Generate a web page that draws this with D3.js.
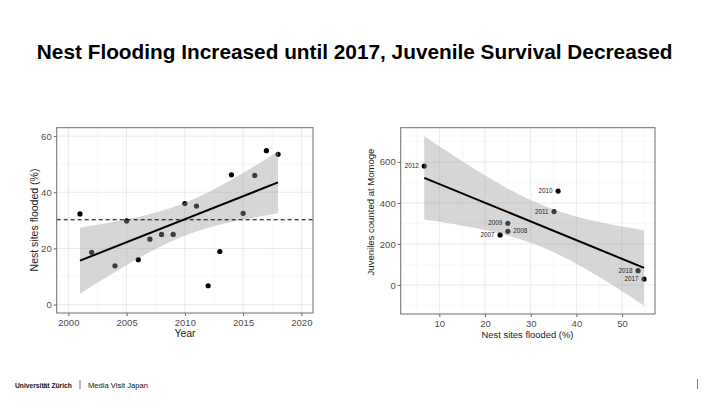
<!DOCTYPE html>
<html>
<head>
<meta charset="utf-8">
<script src="https://cdn.jsdelivr.net/npm/d3@7"></script>
<style>
  html, body { margin: 0; padding: 0; background: #fff; }
  svg { display: block; font-family: "Liberation Sans", Arial, sans-serif; }
</style>
</head>
<body>
<svg id="chart" width="720" height="405"></svg>
<script>
// ---------- data ----------
const years = [2001, 2002, 2004, 2005, 2006, 2007, 2008, 2009, 2010, 2011, 2012, 2013, 2014, 2015, 2016, 2017, 2018];
const floodedPct = [32.3, 18.6, 13.8, 29.8, 16.0, 23.3, 25.0, 25.0, 36.0, 35.1, 6.7, 18.9, 46.2, 32.5, 46.0, 54.8, 53.5];

const juvYears = ["2012", "2010", "2011", "2009", "2008", "2007", "2018", "2017"];
const juvFlooded = [6.7, 36.0, 35.1, 25.0, 25.0, 23.3, 53.5, 54.8];
const juvCount = [580, 458, 358, 301, 262, 244, 70, 29];

const leftXTicks = [2000, 2005, 2010, 2015, 2020];
const leftYTicks = [0, 20, 40, 60];
const rightXTicks = [10, 20, 30, 40, 50];
const rightYTicks = [0, 200, 400, 600];

const titleText = "Nest Flooding Increased until 2017, Juvenile Survival Decreased";

// ---------- helpers ----------
function linfit(xs, ys, tcrit) {
  const n = xs.length;
  const mx = d3.mean(xs), my = d3.mean(ys);
  let sxx = 0, sxy = 0;
  xs.forEach((x, i) => { sxx += (x - mx) ** 2; sxy += (x - mx) * (ys[i] - my); });
  const b = sxy / sxx, a = my - b * mx;
  let ssr = 0;
  xs.forEach((x, i) => { ssr += (ys[i] - a - b * x) ** 2; });
  const s = Math.sqrt(ssr / (n - 2));
  const [x0, x1] = d3.extent(xs);
  const grid = d3.range(0, 81).map(k => x0 + (x1 - x0) * k / 80);
  const band = grid.map(x => {
    const fit = a + b * x;
    const se = s * Math.sqrt(1 / n + (x - mx) ** 2 / sxx);
    return { x, fit, lo: fit - tcrit * se, hi: fit + tcrit * se };
  });
  return { a, b, band, x0, x1 };
}

function fitText(sel, base, target) {
  sel.attr("font-size", base);
  const w = sel.node().getComputedTextLength();
  sel.attr("font-size", base * target / w);
  return sel;
}

const svg = d3.select("#chart");

// title
fitText(svg.append("text")
  .attr("x", 354.7).attr("y", 59)
  .attr("text-anchor", "middle")
  .attr("font-weight", "bold")
  .attr("fill", "#000")
  .text(titleText), 20, 636);

function panel(opts) {
  const g = svg.append("g");
  const { x, y, xTicks, yTicks, xMinor, yMinor } = opts;
  const [L, R] = x.range();
  const [B, T] = y.range();
  g.append("rect").attr("x", L).attr("y", T).attr("width", R - L).attr("height", B - T).attr("fill", "#fff");
  g.selectAll(".gxm").data(xMinor).enter().append("line")
    .attr("x1", d => x(d)).attr("x2", d => x(d)).attr("y1", T).attr("y2", B)
    .attr("stroke", "#f3f3f3").attr("stroke-width", 0.6);
  g.selectAll(".gym").data(yMinor).enter().append("line")
    .attr("y1", d => y(d)).attr("y2", d => y(d)).attr("x1", L).attr("x2", R)
    .attr("stroke", "#f3f3f3").attr("stroke-width", 0.6);
  g.selectAll(".gx").data(xTicks).enter().append("line")
    .attr("x1", d => x(d)).attr("x2", d => x(d)).attr("y1", T).attr("y2", B)
    .attr("stroke", "#e8e8e8").attr("stroke-width", 0.9);
  g.selectAll(".gy").data(yTicks).enter().append("line")
    .attr("y1", d => y(d)).attr("y2", d => y(d)).attr("x1", L).attr("x2", R)
    .attr("stroke", "#e8e8e8").attr("stroke-width", 0.9);
  return g;
}

function axes(g, x, y, xTicks, yTicks) {
  const [L, R] = x.range();
  const [B, T] = y.range();
  const xa = g.append("g").attr("transform", `translate(0,${B})`)
    .call(d3.axisBottom(x).tickValues(xTicks).tickSize(3).tickPadding(3).tickFormat(d3.format("d")));
  const ya = g.append("g").attr("transform", `translate(${L},0)`)
    .call(d3.axisLeft(y).tickValues(yTicks).tickSize(3).tickPadding(2).tickFormat(d3.format("d")));
  [xa, ya].forEach(a => {
    a.select(".domain").remove();
    a.selectAll("line").attr("stroke", "#555").attr("stroke-width", 0.9);
    a.selectAll("text").attr("fill", "#4d4d4d").attr("font-size", 9.5)
      .attr("font-family", "'Liberation Sans', Arial, sans-serif");
  });
  g.append("rect").attr("x", L).attr("y", T).attr("width", R - L).attr("height", B - T)
    .attr("fill", "none").attr("stroke", "#6e6e6e").attr("stroke-width", 1);
}

// ---------- left chart ----------
{
  const x = d3.scaleLinear().domain([1999, 2021]).range([56.7, 313]);
  const y = d3.scaleLinear().domain([-3, 63]).range([313, 127.7]);
  const g = panel({ x, y, xTicks: leftXTicks, yTicks: leftYTicks,
    xMinor: [2002.5, 2007.5, 2012.5, 2017.5], yMinor: [10, 30, 50] });

  g.selectAll(".pt").data(years).enter().append("circle")
    .attr("cx", d => x(d)).attr("cy", (d, i) => y(floodedPct[i])).attr("r", 2.6).attr("fill", "#000");

  const fit = linfit(years, floodedPct, 2.131);
  g.append("path").datum(fit.band)
    .attr("d", d3.area().x(d => x(d.x)).y0(d => y(d.lo)).y1(d => y(d.hi)))
    .attr("fill", "#999").attr("fill-opacity", 0.4);
  g.append("line")
    .attr("x1", x(fit.x0)).attr("x2", x(fit.x1))
    .attr("y1", y(fit.a + fit.b * fit.x0)).attr("y2", y(fit.a + fit.b * fit.x1))
    .attr("stroke", "#000").attr("stroke-width", 2);
  const meanY = d3.mean(floodedPct);
  g.append("line")
    .attr("x1", x.range()[0]).attr("x2", x.range()[1])
    .attr("y1", y(meanY)).attr("y2", y(meanY))
    .attr("stroke", "#000").attr("stroke-width", 1.1).attr("stroke-dasharray", "4,3");

  axes(g, x, y, leftXTicks, leftYTicks);

  fitText(g.append("text").attr("x", 185).attr("y", 337).attr("text-anchor", "middle")
    .attr("fill", "#222").text("Year"), 11, 21.3);
  fitText(g.append("text").attr("transform", "translate(38,220) rotate(-90)").attr("text-anchor", "middle")
    .attr("fill", "#222").text("Nest sites flooded (%)"), 11, 103);
}

// ---------- right chart ----------
{
  const x = d3.scaleLinear().domain([1.55, 57.2]).range([400.7, 655]);
  const y = d3.scaleLinear().domain([-141.5, 767]).range([314, 127.7]);
  const g = panel({ x, y, xTicks: rightXTicks, yTicks: rightYTicks,
    xMinor: [5, 15, 25, 35, 45, 55], yMinor: [-100, 100, 300, 500, 700] });

  g.selectAll(".pt").data(juvYears).enter().append("circle")
    .attr("cx", (d, i) => x(juvFlooded[i])).attr("cy", (d, i) => y(juvCount[i])).attr("r", 2.6).attr("fill", "#000");

  const fit = linfit(juvFlooded, juvCount, 2.447);
  g.append("path").datum(fit.band)
    .attr("d", d3.area().x(d => x(d.x)).y0(d => y(d.lo)).y1(d => y(d.hi)))
    .attr("fill", "#999").attr("fill-opacity", 0.4);
  g.append("line")
    .attr("x1", x(fit.x0)).attr("x2", x(fit.x1))
    .attr("y1", y(fit.a + fit.b * fit.x0)).attr("y2", y(fit.a + fit.b * fit.x1))
    .attr("stroke", "#000").attr("stroke-width", 2);

  const rightSide = ["2008"];
  g.selectAll(".lbl").data(juvYears).enter().append("text")
    .attr("x", (d, i) => x(juvFlooded[i]) + (rightSide.includes(d) ? 5.5 : -5.5))
    .attr("y", (d, i) => y(juvCount[i]) + 2)
    .attr("text-anchor", d => rightSide.includes(d) ? "start" : "end")
    .attr("font-size", 6.3).attr("fill", "#222").text(d => d);

  axes(g, x, y, rightXTicks, rightYTicks);

  fitText(g.append("text").attr("x", 527.5).attr("y", 337.5).attr("text-anchor", "middle")
    .attr("fill", "#222").text("Nest sites flooded (%)"), 11, 92);
  fitText(g.append("text").attr("transform", "translate(373.5,212) rotate(-90)").attr("text-anchor", "middle")
    .attr("fill", "#222").text("Juveniles counted at Momoge"), 11, 127);
}

// ---------- footer ----------
fitText(svg.append("text").attr("x", 15).attr("y", 387.5)
  .attr("font-weight", "bold").attr("fill", "#111").text("Universität Zürich"), 7, 57);
svg.append("line").attr("x1", 80).attr("x2", 80).attr("y1", 380).attr("y2", 389)
  .attr("stroke", "#555").attr("stroke-width", 0.8);
fitText(svg.append("text").attr("x", 88).attr("y", 388)
  .attr("fill", "#111").text("Media Visit Japan"), 8, 60);
svg.append("line").attr("x1", 697.5).attr("x2", 697.5).attr("y1", 379).attr("y2", 389)
  .attr("stroke", "#555").attr("stroke-width", 0.8);
</script>
</body>
</html>
